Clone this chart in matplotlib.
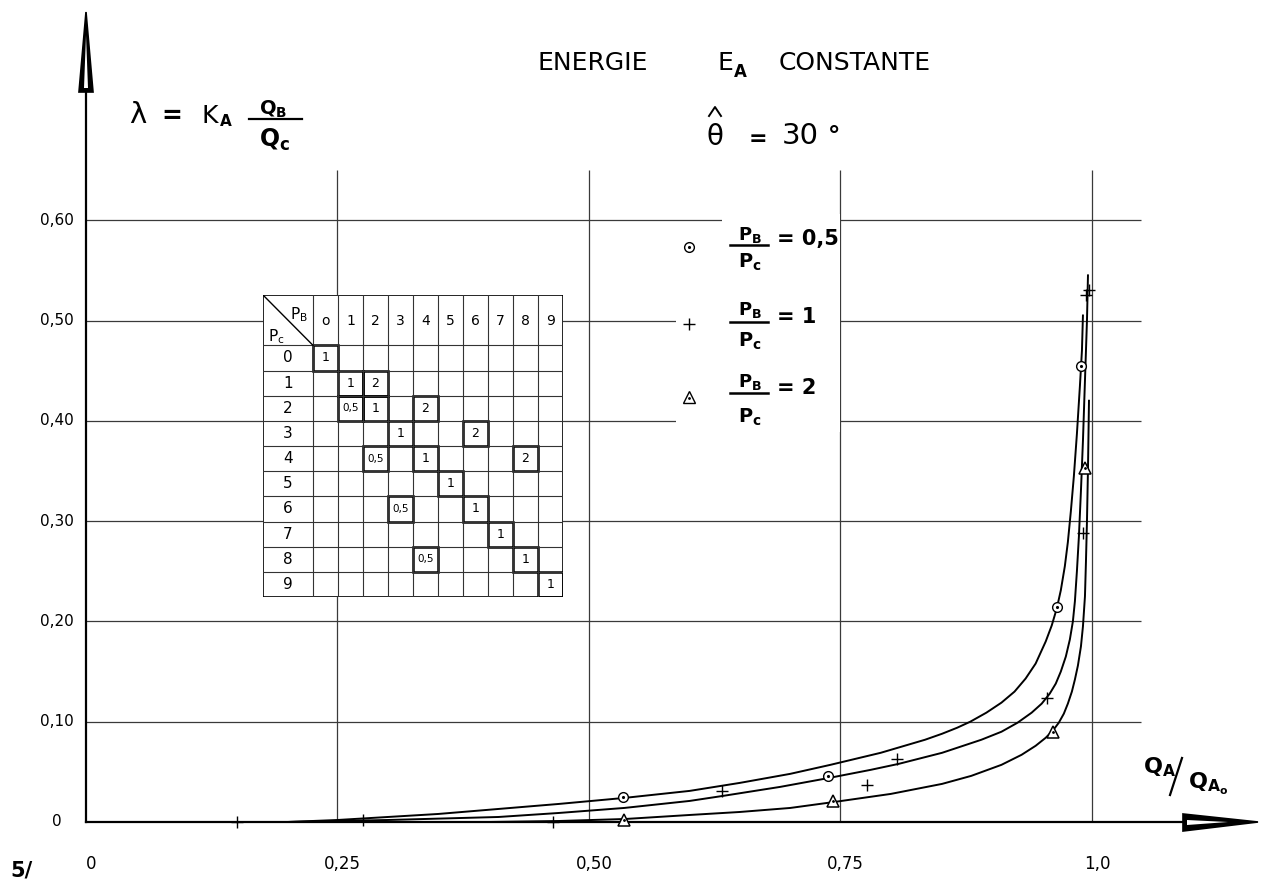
import matplotlib
matplotlib.use("Agg")
from matplotlib import pyplot as plt
from matplotlib import transforms as mtransforms
from matplotlib.patches import Polygon, Rectangle

plt.rcParams['font.family'] = ['DejaVu Sans']
plt.rcParams['mathtext.fontset'] = 'dejavusans'

W_PX, H_PX = 1269, 884

#%% data
x_grid = [0.25, 0.50, 0.75, 1.0]
y_grid = [0.10, 0.20, 0.30, 0.40, 0.50, 0.60]
x_tick_vals = [0, 0.25, 0.50, 0.75, 1.0]
x_tick_labels = ['0', '0,25', '0,50', '0,75', '1,0']
y_tick_vals = [0, 0.10, 0.20, 0.30, 0.40, 0.50, 0.60]
y_tick_labels = ['0', '0,10', '0,20', '0,30', '0,40', '0,50', '0,60']

# curve PB/PC = 0.5
x_c05 = [0.20, 0.25, 0.30, 0.35, 0.41, 0.47, 0.535, 0.60, 0.65, 0.70, 0.74, 0.79, 0.834,
         0.851, 0.866, 0.879, 0.895, 0.910, 0.923, 0.934, 0.944, 0.954, 0.960, 0.965,
         0.969, 0.973, 0.976, 0.979, 0.982, 0.985, 0.988, 0.990, 0.991]
y_c05 = [0.000, 0.002, 0.005, 0.008, 0.013, 0.018, 0.024, 0.031, 0.039, 0.048, 0.057, 0.069, 0.082,
         0.088, 0.094, 0.100, 0.109, 0.119, 0.130, 0.143, 0.158, 0.180, 0.196, 0.213,
         0.231, 0.255, 0.279, 0.310, 0.345, 0.387, 0.435, 0.470, 0.505]
# curve PB/PC = 1
x_c1 = [0.20, 0.30, 0.41, 0.47, 0.535, 0.60, 0.633, 0.69, 0.739, 0.78, 0.808, 0.851, 0.89,
        0.91, 0.926, 0.94, 0.950, 0.958, 0.964, 0.969, 0.974, 0.978, 0.981, 0.983, 0.985,
        0.987, 0.989, 0.991, 0.993, 0.995, 0.996]
y_c1 = [0.000, 0.002, 0.005, 0.009, 0.014, 0.021, 0.026, 0.035, 0.044, 0.052, 0.058, 0.069, 0.082,
        0.090, 0.099, 0.109, 0.118, 0.128, 0.138, 0.150, 0.165, 0.182, 0.200, 0.220, 0.250,
        0.285, 0.330, 0.380, 0.440, 0.500, 0.545]
# curve PB/PC = 2
x_c2 = [0.25, 0.40, 0.47, 0.536, 0.60, 0.65, 0.70, 0.744, 0.80, 0.851, 0.88, 0.91, 0.930,
        0.944, 0.954, 0.961, 0.967, 0.972, 0.976, 0.980, 0.983, 0.986, 0.989, 0.991, 0.993,
        0.994, 0.995, 0.996, 0.997]
y_c2 = [0.000, 0.000, 0.001, 0.003, 0.007, 0.010, 0.014, 0.020, 0.028, 0.038, 0.046, 0.057, 0.067,
        0.076, 0.084, 0.091, 0.099, 0.108, 0.118, 0.130, 0.142, 0.156, 0.175, 0.195, 0.225,
        0.260, 0.300, 0.352, 0.420]

# measured points
pts05_x = [0.534, 0.738, 0.965, 0.989]
pts05_y = [0.025, 0.046, 0.214, 0.455]
pts1_x = [0.150, 0.275, 0.464, 0.632, 0.776, 0.806, 0.955, 0.991, 0.994, 0.997]
pts1_y = [0.000, 0.002, 0.000, 0.031, 0.037, 0.063, 0.124, 0.288, 0.525, 0.530]
pts2_x = [0.535, 0.743, 0.961, 0.993]
pts2_y = [0.002, 0.021, 0.090, 0.353]

# table PB (columns) x PC (rows)
tab_idx = list(range(10))
tab_pc = [0, 1, 1, 2, 2, 2, 3, 3, 4, 4, 4, 5, 6, 6, 7, 8, 8, 9]
tab_pb = [0, 1, 2, 1, 2, 4, 3, 6, 2, 4, 8, 5, 3, 6, 7, 4, 8, 9]
tab_val = ['1', '1', '2', '0,5', '1', '2', '1', '2', '0,5', '1', '2', '1',
           '0,5', '1', '1', '0,5', '1', '1']

#%% figure
fig = plt.figure(figsize=(W_PX / 100, H_PX / 100), dpi=100)
ax = fig.add_axes([0, 0, 1, 1])
ax.set_xlim(-86 / 1006, (W_PX - 86) / 1006)
ax.set_ylim(-(H_PX - 822) / 1003, 822 / 1003)
ax.axis('off')

# pixel coords of the sheet, origin top-left
PIX = mtransforms.Affine2D().scale(1 / W_PX, -1 / H_PX).translate(0, 1) + fig.transFigure
X_PIX = mtransforms.blended_transform_factory(ax.transData, PIX)
PIX_Y = mtransforms.blended_transform_factory(PIX, ax.transData)

# grid
ax.hlines(y_grid, 0, 1.049, color='#3a3a3a', lw=0.9, zorder=1)
ax.vlines(x_grid, 0, 0.650, color='#3a3a3a', lw=0.9, zorder=1)

# blank the grid behind the legend
ax.add_patch(Rectangle((722, 214), 118, 218, transform=PIX, fc='white', ec='none', zorder=2))
ax.add_patch(Rectangle((676, 231), 46, 201, transform=PIX, fc='white', ec='none', zorder=2))

# axes with arrows
ax.plot([86, 86], [822, 92], transform=PIX, color='black', lw=1.6, zorder=3)
ax.plot([86, 1183], [822, 822], transform=PIX, color='black', lw=1.6, zorder=3)
ax.add_patch(Polygon([(79, 92), (86, 12), (93, 92)], closed=True, transform=PIX,
                     fc='black', ec='black', lw=1.2, zorder=4))
ax.add_patch(Polygon([(84, 88), (86, 35), (88, 88)], closed=True, transform=PIX,
                     fc='white', ec='none', zorder=5))
ax.add_patch(Polygon([(1183, 814), (1258, 822), (1183, 831)], closed=True, transform=PIX,
                     fc='black', ec='black', lw=1.2, zorder=4))
ax.add_patch(Polygon([(1187, 820), (1228, 822), (1187, 825)], closed=True, transform=PIX,
                     fc='white', ec='none', zorder=5))

# curves
for xs, ys in [(x_c05, y_c05), (x_c1, y_c1), (x_c2, y_c2)]:
    ax.plot(xs, ys, color='black', lw=1.4, zorder=3, solid_joinstyle='round')

# points
ax.plot(pts05_x, pts05_y, ls='none', marker='o', ms=7, mfc='white', mec='black', mew=1.0, zorder=6)
ax.plot(pts05_x, pts05_y, ls='none', marker='.', ms=2.5, color='black', zorder=7)
ax.plot(pts1_x, pts1_y, ls='none', marker='+', ms=9, mec='black', mew=1.0, zorder=6)
ax.plot(pts2_x, pts2_y, ls='none', marker='^', ms=8, mfc='white', mec='black', mew=1.1, zorder=6)
ax.plot(pts2_x, pts2_y, ls='none', marker='.', ms=2, color='black', zorder=7)

# tick labels
for v, s in zip(x_tick_vals, x_tick_labels):
    ax.text(v + 0.005, 864, s, transform=X_PIX, ha='center', va='center', fontsize=12)
for v, s in zip(y_tick_vals, y_tick_labels):
    ax.text(57, v, s, transform=PIX_Y, ha='center', va='center', fontsize=11)
ax.text(10, 876, '5/', transform=PIX, ha='left', va='baseline', fontsize=15, fontweight='bold')

# titles
ax.text(538, 70, 'ENERGIE', transform=PIX, ha='left', va='baseline', fontsize=18)
ax.text(717, 70, 'E', transform=PIX, ha='left', va='baseline', fontsize=18)
ax.text(734, 77, 'A', transform=PIX, ha='left', va='baseline', fontsize=12, fontweight='bold')
ax.text(779, 70, 'CONSTANTE', transform=PIX, ha='left', va='baseline', fontsize=18)

ax.text(129, 123, 'λ', transform=PIX, ha='left', va='baseline', fontsize=21)
ax.text(161, 123, '=', transform=PIX, ha='left', va='baseline', fontsize=18, fontweight='bold')
ax.text(201, 123, 'K', transform=PIX, ha='left', va='baseline', fontsize=18)
ax.text(220, 126, 'A', transform=PIX, ha='left', va='baseline', fontsize=11, fontweight='bold')
ax.text(273, 115, r'$\mathbf{Q_B}$', transform=PIX, ha='center', va='baseline', fontsize=14)
ax.plot([249, 302], [119, 119], transform=PIX, color='black', lw=1.6)
ax.text(275, 147, r'$\mathbf{Q_c}$', transform=PIX, ha='center', va='baseline', fontsize=17)

ax.text(706, 145, 'θ', transform=PIX, ha='left', va='baseline', fontsize=20)
ax.plot([709, 715, 721], [116, 107, 116], transform=PIX, color='black', lw=1.4)
ax.text(749, 145, '=', transform=PIX, ha='left', va='baseline', fontsize=16, fontweight='bold')
ax.text(782, 144, '30', transform=PIX, ha='left', va='baseline', fontsize=21)
ax.text(828, 144, '°', transform=PIX, ha='left', va='baseline', fontsize=18, fontweight='bold')

ax.text(1143, 773, r'$\mathbf{Q_A}$', transform=PIX, ha='left', va='baseline', fontsize=16)
ax.plot([1182, 1170], [758, 795], transform=PIX, color='black', lw=1.6)
ax.text(1188, 789, r'$\mathbf{Q_{A_o}}$', transform=PIX, ha='left', va='baseline', fontsize=16)

# legend
leg_rows = [(247, 240, 245, 268, '= 0,5', 245), (324, 315, 322, 347, '= 1', 323),
            (397, 387, 393, 423, '= 2', 394)]
leg_marks = [dict(marker='o', ms=7, mfc='white'), dict(marker='+', ms=9),
             dict(marker='^', ms=9, mfc='white')]
for (ym, yn, yl, yd, rhs, yr), mk in zip(leg_rows, leg_marks):
    ax.plot([689], [ym], transform=PIX, ls='none', mec='black', mew=1.0, zorder=6, **mk)
    ax.text(750, yn, r'$\mathbf{P_B}$', transform=PIX, ha='center', va='baseline', fontsize=13, zorder=6)
    ax.plot([730, 768], [yl, yl], transform=PIX, color='black', lw=1.8, zorder=6)
    ax.text(750, yd, r'$\mathbf{P_c}$', transform=PIX, ha='center', va='baseline', fontsize=14, zorder=6)
    ax.text(777, yr, rhs, transform=PIX, ha='left', va='baseline', fontsize=15,
            fontweight='bold', zorder=6)
ax.plot([689], [247], transform=PIX, ls='none', marker='.', ms=2.5, color='black', zorder=7)
ax.plot([689], [398], transform=PIX, ls='none', marker='.', ms=2, color='black', zorder=7)

#%% table
tax = fig.add_axes([263 / W_PX, 1 - 597 / H_PX, 300 / W_PX, 302 / H_PX])
tax.set_xlim(0, 12)
tax.set_ylim(12, 0)
tax.axis('off')
tax.add_patch(Rectangle((0, 0), 12, 12, fc='white', ec='black', lw=1.2))
for k in range(2, 12):
    tax.plot([k, k], [0, 12], color='#333333', lw=0.8)
    tax.plot([0, 12], [k, k], color='#333333', lw=0.8)
tax.plot([0, 2], [0, 2], color='black', lw=1.0)
tax.text(1.45, 0.95, r'$\mathrm{P_B}$', ha='center', va='baseline', fontsize=11)
tax.text(0.55, 1.85, r'$\mathrm{P_c}$', ha='center', va='baseline', fontsize=11)
for i in tab_idx:
    tax.text(2.5 + i, 1.05, 'o' if i == 0 else str(i), ha='center', va='center', fontsize=10)
    tax.text(1.0, 2.5 + i, str(i), ha='center', va='center', fontsize=11)
for pc, pb, v in zip(tab_pc, tab_pb, tab_val):
    tax.add_patch(Rectangle((2 + pb, 2 + pc), 1, 1, fill=False, ec='black', lw=1.8))
    tax.text(2.5 + pb, 2.5 + pc, v, ha='center', va='center',
             fontsize=7.5 if ',' in v else 9)

fig.savefig('out.png', dpi=100)
